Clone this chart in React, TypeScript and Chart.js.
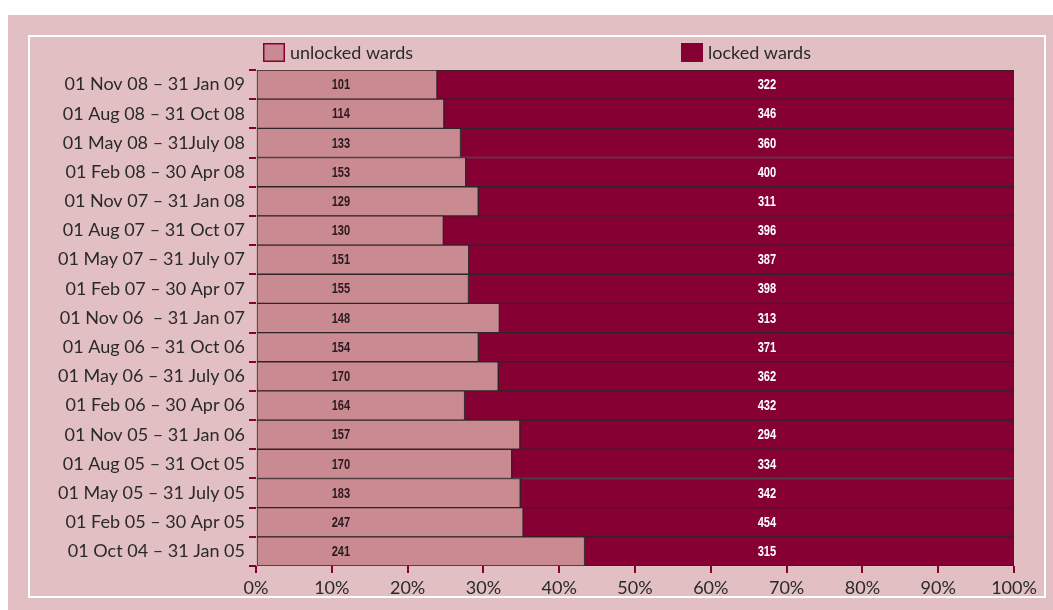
import React, { useEffect, useRef } from "react";
import { Chart, registerables } from "chart.js";

Chart.register(...registerables);

// Reporting periods, newest first
const periods: string[] = [
  "01 Nov 08 – 31 Jan 09",
  "01 Aug 08 – 31 Oct 08",
  "01 May 08 – 31July 08",
  "01 Feb 08 – 30 Apr 08",
  "01 Nov 07 – 31 Jan 08",
  "01 Aug 07 – 31 Oct 07",
  "01 May 07 – 31 July 07",
  "01 Feb 07 – 30 Apr 07",
  "01 Nov 06  – 31 Jan 07",
  "01 Aug 06 – 31 Oct 06",
  "01 May 06 – 31 July 06",
  "01 Feb 06 – 30 Apr 06",
  "01 Nov 05 – 31 Jan 06",
  "01 Aug 05 – 31 Oct 05",
  "01 May 05 – 31 July 05",
  "01 Feb 05 – 30 Apr 05",
  "01 Oct 04 – 31 Jan 05",
];

// Ward counts per period
const unlockedWards: number[] = [101, 114, 133, 153, 129, 130, 151, 155, 148, 154, 170, 164, 157, 170, 183, 247, 241];
const lockedWards: number[] = [322, 346, 360, 400, 311, 396, 387, 398, 313, 371, 362, 432, 294, 334, 342, 454, 315];

const axisTicks: number[] = [0, 10, 20, 30, 40, 50, 60, 70, 80, 90, 100];

const PINK_BG = "#e1bfc3";
const UNLOCKED = "#c98a91";
const LOCKED = "#870033";
const EDGE = "#2f2427";
const TEXT = "#2a2a2a";

const unlockedShare = unlockedWards.map((u, i) => (u / (u + lockedWards[i])) * 100);
const lockedShare = lockedWards.map((l, i) => (l / (unlockedWards[i] + l)) * 100);

// Narrow bold figure, squeezed horizontally around its centre
function narrowText(ctx: CanvasRenderingContext2D, text: string, x: number, y: number) {
  ctx.save();
  ctx.translate(x, y);
  ctx.scale(0.74, 1);
  ctx.fillText(text, 0, 0);
  ctx.restore();
}

// Counts printed on each row plus the two-item key above the bars
const annotations = {
  id: "wardAnnotations",
  afterDraw(chart: any) {
    const { ctx, chartArea } = chart;
    const xs = chart.scales.x;
    const ys = chart.scales.y;
    ctx.save();
    ctx.font = "bold 15px 'Liberation Sans', Arial, sans-serif";
    ctx.textAlign = "center";
    ctx.textBaseline = "middle";
    const xu = xs.getPixelForValue(11.2);
    const xl = xs.getPixelForValue(67.4);
    periods.forEach((_, i) => {
      const y = ys.getPixelForValue(i) + 0.5;
      ctx.fillStyle = "#2b1b20";
      narrowText(ctx, String(unlockedWards[i]), xu, y);
      ctx.fillStyle = "#ffffff";
      narrowText(ctx, String(lockedWards[i]), xl, y);
    });

    // key
    const keyY = chartArea.top - 27;
    const items = [
      { x: chartArea.left + 7, fill: UNLOCKED, text: "unlocked wards" },
      { x: chartArea.left + 425, fill: LOCKED, text: "locked wards" },
    ];
    ctx.font = "18px Lato, sans-serif";
    ctx.textAlign = "left";
    items.forEach((it) => {
      ctx.fillStyle = it.fill;
      ctx.fillRect(it.x, keyY, 22, 19);
      ctx.strokeStyle = LOCKED;
      ctx.lineWidth = 1.5;
      ctx.strokeRect(it.x + 0.75, keyY + 0.75, 20.5, 17.5);
      ctx.fillStyle = TEXT;
      ctx.fillText(it.text, it.x + 27, keyY + 10);
    });
    ctx.restore();
  },
};

export default function App() {
  const canvasRef = useRef<HTMLCanvasElement | null>(null);

  useEffect(() => {
    if (!canvasRef.current) return;
    const chart = new Chart(canvasRef.current, {
      type: "bar",
      data: {
        labels: periods,
        datasets: [
          {
            label: "unlocked wards",
            data: unlockedShare,
            backgroundColor: UNLOCKED,
            borderColor: EDGE,
            borderWidth: 1,
            borderSkipped: false,
            barPercentage: 1,
            categoryPercentage: 1,
          },
          {
            label: "locked wards",
            data: lockedShare,
            backgroundColor: LOCKED,
            borderColor: EDGE,
            borderWidth: 1,
            borderSkipped: false,
            barPercentage: 1,
            categoryPercentage: 1,
          },
        ],
      },
      options: {
        indexAxis: "y",
        animation: false,
        responsive: true,
        maintainAspectRatio: false,
        layout: { padding: { left: 0, top: 55, right: 39, bottom: 0 } },
        plugins: {
          legend: { display: false },
          tooltip: { enabled: false },
        },
        scales: {
          x: {
            stacked: true,
            min: 0,
            max: 100,
            afterBuildTicks(scale: any) {
              scale.ticks = axisTicks.map((v) => ({ value: v }));
            },
            afterFit(scale: any) {
              scale.height = 44;
            },
            border: { display: false },
            grid: {
              drawOnChartArea: false,
              drawTicks: true,
              tickLength: 7,
              color: LOCKED,
              lineWidth: 2,
            },
            ticks: {
              color: TEXT,
              font: { family: "Lato", size: 18 },
              padding: 4,
              maxRotation: 0,
              callback: (v: any) => `${v}%`,
            },
          },
          y: {
            stacked: true,
            afterFit(scale: any) {
              scale.width = 248;
            },
            border: { display: false },
            grid: {
              offset: true,
              drawOnChartArea: false,
              drawTicks: true,
              tickLength: 7,
              color: LOCKED,
              lineWidth: 2,
            },
            ticks: {
              color: TEXT,
              font: { family: "Lato", size: 18 },
              padding: 4,
              autoSkip: false,
            },
          },
        },
      },
      plugins: [annotations],
    });
    return () => chart.destroy();
  }, []);

  return (
    <div
      style={{
        position: "fixed",
        left: 8,
        top: 15,
        width: 1045,
        height: 595,
        background: PINK_BG,
      }}
    >
      <div
        style={{
          position: "absolute",
          left: 20,
          top: 20,
          width: 1018,
          height: 563,
          boxSizing: "border-box",
          border: "2px solid #ffffff",
        }}
      />
      <div style={{ position: "absolute", left: 0, top: 0, width: 1045, height: 595 }}>
        <canvas ref={canvasRef} />
      </div>
    </div>
  );
}
